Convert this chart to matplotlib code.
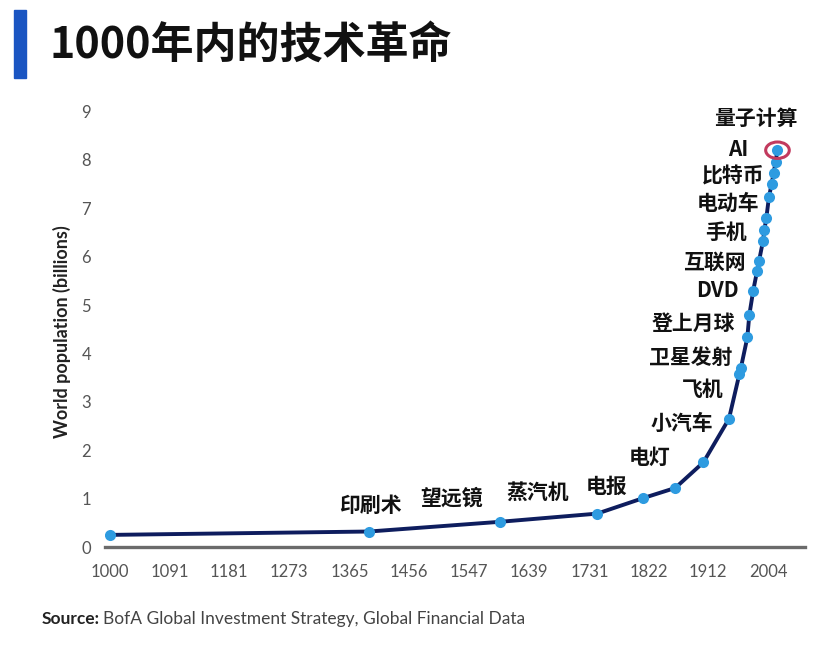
import matplotlib
matplotlib.use("Agg")
import matplotlib.pyplot as plt
from matplotlib.patches import Ellipse, Rectangle

plt.rcParams['font.family'] = ['Noto Sans CJK SC', 'DejaVu Sans']

# ---- data ----
years = [1000, 1395, 1594, 1743, 1813, 1862, 1905, 1944, 1960, 1962, 1972, 1975,
         1981, 1987, 1990, 1996, 1998, 2001, 2005, 2009, 2012, 2015, 2018]
population = [0.25, 0.32, 0.52, 0.69, 1.01, 1.22, 1.75, 2.65, 3.58, 3.69, 4.33, 4.79,
              5.30, 5.71, 5.92, 6.33, 6.55, 6.80, 7.23, 7.50, 7.72, 7.95, 8.20]
xtick_labels = [1000, 1091, 1181, 1273, 1365, 1456, 1547, 1639, 1731, 1822, 1912, 2004]
ytick_labels = list(range(0, 10))
event_labels = ["印刷术", "望远镜", "蒸汽机", "电报", "电灯", "小汽车", "飞机",
                "卫星发射", "登上月球", "DVD", "互联网", "手机", "电动车", "比特币",
                "AI", "量子计算"]
highlight_year = 2018
highlight_pop = 8.20

# ---- layout (pixel positions of labels) ----
label_px = [(370, 505), (452, 498), (538, 492), (607, 486), (650, 457), (682, 423),
            (703, 390), (691, 357), (693, 323), (717, 290), (714, 262), (726, 232),
            (728, 203), (733, 176), (738, 149), (756, 118)]

W, H = 828, 655
fig = plt.figure(figsize=(W / 100, H / 100), dpi=100)
fig.patch.set_facecolor('white')
ax = fig.add_axes([105 / W, 1 - 547 / H, 700 / W, 450 / H])

ax.plot(years, population, color='#0e1d5e', lw=2.8, zorder=2,
        solid_capstyle='round')
ax.plot(years, population, 'o', color='#2e9be0', ms=8, mec='none', zorder=3)
ax.add_patch(Ellipse((highlight_year, highlight_pop), 36, 0.34, fill=False,
                     ec='#c23a5e', lw=2.2, zorder=4))

ax.set_xlim(992, 2060)
ax.set_ylim(0, 9.3)
ax.set_xticks(xtick_labels)
ax.set_xticklabels([str(v) for v in xtick_labels])
ax.set_yticks(ytick_labels)
ax.set_yticklabels([str(v) for v in ytick_labels])
for s in ['top', 'right', 'left']:
    ax.spines[s].set_visible(False)
ax.spines['bottom'].set_color('#6b6b6b')
ax.spines['bottom'].set_linewidth(2.4)
ax.tick_params(axis='both', length=0, colors='#555555', labelsize=12)
ax.tick_params(axis='x', pad=12)
ax.tick_params(axis='y', pad=10)
for lab in ax.get_xticklabels() + ax.get_yticklabels():
    lab.set_family(['Lato', 'DejaVu Sans'])

fig.text(62 / W, 1 - 332 / H, "World population (billions)", rotation=90,
         ha='center', va='center', fontsize=13, fontweight='bold',
         family=['Lato', 'DejaVu Sans'], color='#222222')

for txt, (px, py) in zip(event_labels, label_px):
    fig.text(px / W, 1 - py / H, txt, ha='center', va='center', fontsize=15,
             fontweight='bold', color='#111111')

# title with blue bar
fig.patches.append(Rectangle((14 / W, 1 - 78 / H), 12 / W, 68 / H,
                             transform=fig.transFigure, color='#1a55c2'))
fig.text(50 / W, 1 - 45 / H, "1000年内的技术革命", ha='left', va='center',
         fontsize=31, fontweight='black', color='#111111')

# source
t1 = fig.text(42 / W, 1 - 619 / H, "Source:", ha='left', va='center', fontsize=12.5,
              fontweight='bold', family=['Lato', 'DejaVu Sans'], color='#222222')
fig.canvas.draw()
bb = t1.get_window_extent()
fig.text((bb.x1 + 3) / W, 1 - 619 / H, "BofA Global Investment Strategy, Global Financial Data",
         ha='left', va='center', fontsize=12.5, family=['Lato', 'DejaVu Sans'],
         color='#444444')

fig.savefig('out.png', dpi=100, facecolor='white')
